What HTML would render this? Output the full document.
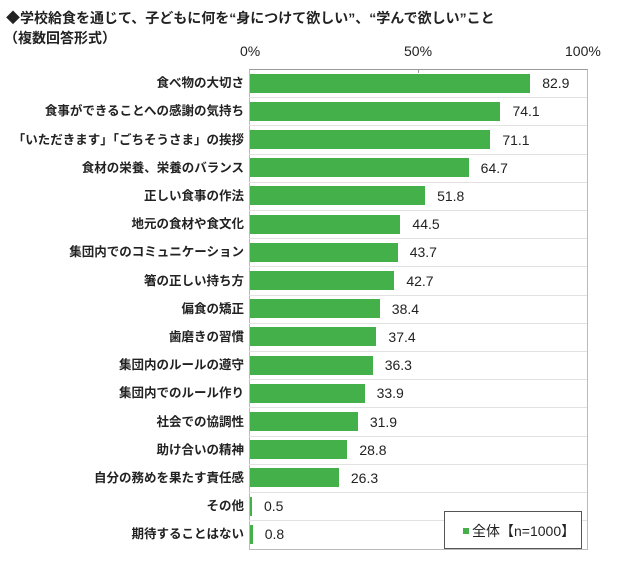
<!DOCTYPE html>
<html><head><meta charset="utf-8"><style>
body{margin:0;background:#fff;width:640px;height:579px;overflow:hidden;font-family:"Liberation Sans","Noto Sans CJK JP",sans-serif;}
.t{position:absolute;color:#222;font-weight:bold;font-size:14px;white-space:nowrap}
.lab{position:absolute;right:396px;font-size:12.5px;font-weight:bold;color:#222;white-space:nowrap;line-height:16px}
.bar{position:absolute;left:250px;height:19px;background:#44b04a}
.val{position:absolute;font-size:14px;color:#222;line-height:16px}
.grid{position:absolute;left:249px;width:338px;height:1px;background:#e2e2e2}
.ax{position:absolute;top:43px;font-size:14px;color:#222}
</style></head><body>
<div class="t" style="left:6px;top:8px">◆学校給食を通じて、子どもに何を“身につけて欲しい”、“学んで欲しい”こと</div>
<div class="t" style="left:4px;top:28px">（複数回答形式）</div>
<div class="ax" style="left:240px">0%</div>
<div class="ax" style="left:404px">50%</div>
<div class="ax" style="left:565px">100%</div>
<div style="position:absolute;left:249px;top:69px;width:337px;height:479px;border:1px solid #bbb;border-top:1px solid #999"></div>
<div style="position:absolute;left:418px;top:69px;width:1px;height:4px;background:#999"></div>
<div id="c"></div>
<div style="position:absolute;left:444px;top:511px;width:136px;height:36px;border:1px solid #555;background:#fff"></div>
<div style="position:absolute;left:463px;top:528px;width:6px;height:6px;background:#44b04a"></div>
<div style="position:absolute;left:472px;top:521px;font-size:14px;color:#222">全体【n=1000】</div>
<script>
var d=[["食べ物の大切さ",82.9],["食事ができることへの感謝の気持ち",74.1],["「いただきます」「ごちそうさま」の挨拶",71.1],["食材の栄養、栄養のバランス",64.7],["正しい食事の作法",51.8],["地元の食材や食文化",44.5],["集団内でのコミュニケーション",43.7],["箸の正しい持ち方",42.7],["偏食の矯正",38.4],["歯磨きの習慣",37.4],["集団内のルールの遵守",36.3],["集団内でのルール作り",33.9],["社会での協調性",31.9],["助け合いの精神",28.8],["自分の務めを果たす責任感",26.3],["その他",0.5],["期待することはない",0.8]];
var h="",rh=28.2;
d.forEach(function(r,i){var top=69+i*rh,cy=top+rh/2;var w=Math.max(2,r[1]*3.38);
if(i>0)h+='<div class="grid" style="top:'+top+'px"></div>';
h+='<div class="lab" style="top:'+(cy-8)+'px">'+r[0]+'</div>';
h+='<div class="bar" style="top:'+(cy-9.5)+'px;width:'+w+'px"></div>';
h+='<div class="val" style="top:'+(cy-8)+'px;left:'+(250+w+12)+'px">'+r[1]+'</div>';});
document.getElementById("c").innerHTML=h;
</script>
</body></html>
